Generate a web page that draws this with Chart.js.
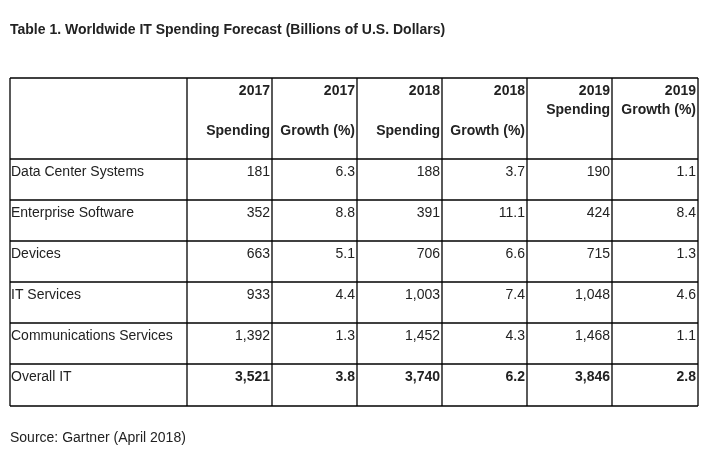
<!DOCTYPE html>
<html>
<head>
<meta charset="utf-8">
<script src="https://cdn.jsdelivr.net/npm/chart.js@4.4.0/dist/chart.umd.min.js"></script>
<style>
html,body{margin:0;padding:0;background:#fff;}
#wrap{width:709px;height:455px;position:relative;}
</style>
</head>
<body>
<div id="wrap"><canvas id="tabla"></canvas></div>
<script>
// --- DATOS ---
const titulo = 'Table 1. Worldwide IT Spending Forecast (Billions of U.S. Dollars)';
const fuente = 'Source: Gartner (April 2018)';
const encabezadoAnio = ['2017', '2017', '2018', '2018', '2019', '2019'];
const encabezadoTipo = ['Spending', 'Growth (%)', 'Spending', 'Growth (%)', 'Spending', 'Growth (%)'];
const segmentos = ['Data Center Systems', 'Enterprise Software', 'Devices', 'IT Services', 'Communications Services', 'Overall IT'];
const gasto2017 = ['181', '352', '663', '933', '1,392', '3,521'];
const crec2017 = ['6.3', '8.8', '5.1', '4.4', '1.3', '3.8'];
const gasto2018 = ['188', '391', '706', '1,003', '1,452', '3,740'];
const crec2018 = ['3.7', '11.1', '6.6', '7.4', '4.3', '6.2'];
const gasto2019 = ['190', '424', '715', '1,048', '1,468', '3,846'];
const crec2019 = ['1.1', '8.4', '1.3', '4.6', '1.1', '2.8'];

// --- LAYOUT (coordenadas de pagina) ---
const bordesCol = [10, 187, 272, 357, 442, 527, 612, 698];
const bordesFila = [78, 159, 200, 241, 282, 323, 364, 406];
const FUENTE = '"Liberation Sans", Arial, sans-serif';

const plugTabla = {
    id: 'tabla',
    afterDraw(chart) {
        const ctx = chart.ctx;
        const sx = chart.scales.x, sy = chart.scales.y;
        const px = v => sx.getPixelForValue(v);
        const py = v => sy.getPixelForValue(v);
        ctx.save();
        ctx.fillStyle = '#222';
        ctx.textBaseline = 'alphabetic';

        ctx.font = 'bold 14px ' + FUENTE;
        ctx.textAlign = 'left';
        ctx.fillText(titulo, px(10), py(34));
        ctx.font = '14px ' + FUENTE;
        ctx.fillText(fuente, px(10), py(442));

        // lineas
        ctx.strokeStyle = '#000';
        ctx.lineWidth = 1.3;
        const top = bordesFila[0], bot = bordesFila[bordesFila.length - 1];
        bordesCol.forEach(c => {
            ctx.beginPath(); ctx.moveTo(px(c), py(top)); ctx.lineTo(px(c), py(bot)); ctx.stroke();
        });
        bordesFila.forEach(f => {
            ctx.beginPath(); ctx.moveTo(px(bordesCol[0]), py(f)); ctx.lineTo(px(bordesCol[7]), py(f)); ctx.stroke();
        });

        // encabezados
        ctx.font = 'bold 14px ' + FUENTE;
        ctx.textAlign = 'right';
        encabezadoAnio.forEach((a, i) => {
            const xr = px(bordesCol[i + 2] - 2);
            ctx.fillText(a, xr, py(top + 17));
            const yTipo = i >= 4 ? top + 36 : top + 57;
            ctx.fillText(encabezadoTipo[i], xr, py(yTipo));
        });

        // filas
        const columnas = [gasto2017, crec2017, gasto2018, crec2018, gasto2019, crec2019];
        segmentos.forEach((s, r) => {
            const yb = py(bordesFila[r + 1] + 17);
            const negrita = r === segmentos.length - 1;
            ctx.font = '14px ' + FUENTE;
            ctx.textAlign = 'left';
            ctx.fillText(s, px(bordesCol[0] + 1), yb);
            ctx.font = (negrita ? 'bold ' : '') + '14px ' + FUENTE;
            ctx.textAlign = 'right';
            columnas.forEach((col, i) => ctx.fillText(col[r], px(bordesCol[i + 2] - 2), yb));
        });
        ctx.restore();
    }
};

new Chart(document.getElementById('tabla').getContext('2d'), {
    type: 'scatter',
    data: { datasets: [{ data: [], pointRadius: 0 }] },
    options: {
        responsive: true,
        maintainAspectRatio: false,
        animation: false,
        layout: { padding: 0 },
        plugins: { legend: { display: false }, tooltip: { enabled: false } },
        scales: {
            x: { type: 'linear', min: 0, max: 709, display: false },
            y: { type: 'linear', min: 0, max: 455, reverse: true, display: false }
        }
    },
    plugins: [plugTabla]
});
</script>
</body>
</html>
